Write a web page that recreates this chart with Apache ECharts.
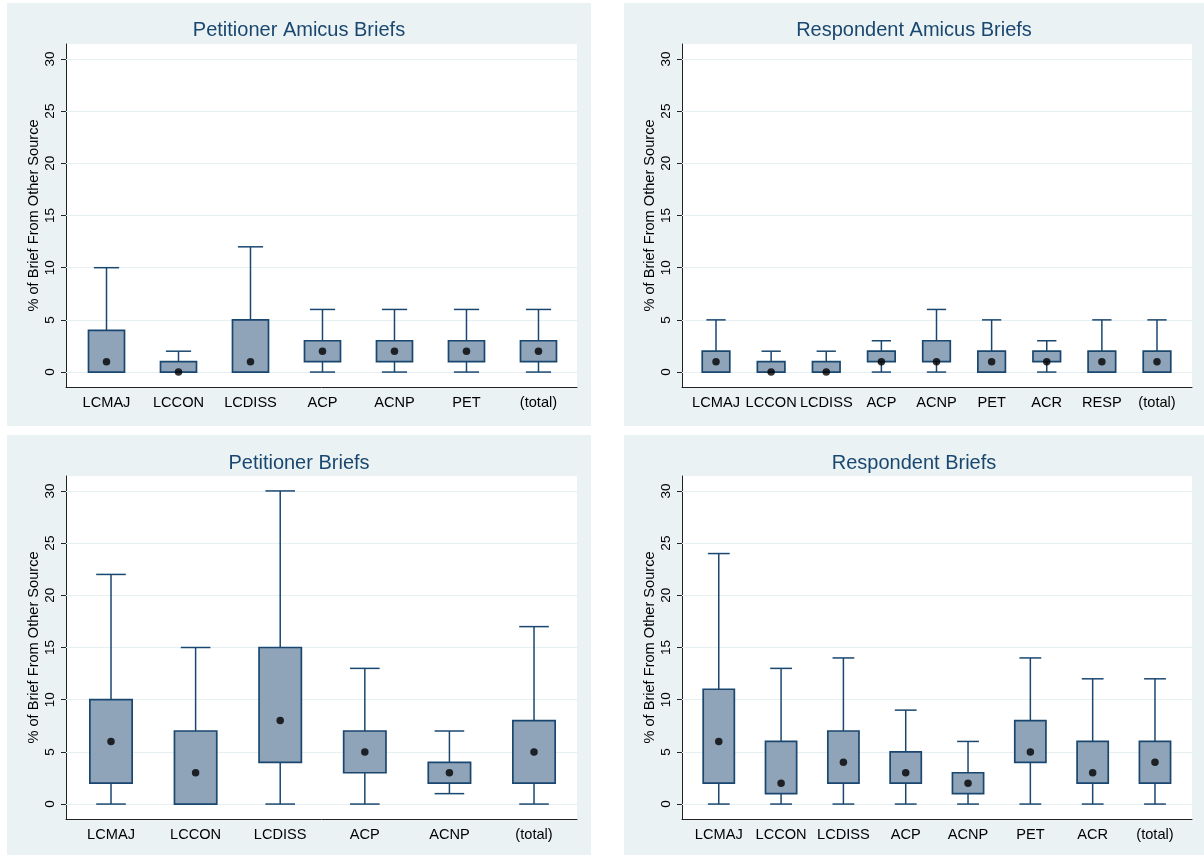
<!DOCTYPE html>
<html><head><meta charset="utf-8">
<script src="https://cdn.jsdelivr.net/npm/echarts@6/dist/echarts.min.js"></script>
<style>html,body{margin:0;padding:0;background:#fff}#c{width:1204px;height:855px}</style>
</head><body><div id="c"></div><script>
// ---- data ----
const yTicks = [0, 5, 10, 15, 20, 25, 30];
// stats rows: [min, q1, median, q3, max]
const petAmicusCats = ['LCMAJ', 'LCCON', 'LCDISS', 'ACP', 'ACNP', 'PET', '(total)'];
const petAmicusStats = [[0,0,1,4,10],[0,0,0,1,2],[0,0,1,5,12],[0,1,2,3,6],[0,1,2,3,6],[0,1,2,3,6],[0,1,2,3,6]];
const respAmicusCats = ['LCMAJ', 'LCCON', 'LCDISS', 'ACP', 'ACNP', 'PET', 'ACR', 'RESP', '(total)'];
const respAmicusStats = [[0,0,1,2,5],[0,0,0,1,2],[0,0,0,1,2],[0,1,1,2,3],[0,1,1,3,6],[0,0,1,2,5],[0,1,1,2,3],[0,0,1,2,5],[0,0,1,2,5]];
const petCats = ['LCMAJ', 'LCCON', 'LCDISS', 'ACP', 'ACNP', '(total)'];
const petStats = [[0,2,6,10,22],[0,0,3,7,15],[0,4,8,15,30],[0,3,5,7,13],[1,2,3,4,7],[0,2,5,8,17]];
const respCats = ['LCMAJ', 'LCCON', 'LCDISS', 'ACP', 'ACNP', 'PET', 'ACR', '(total)'];
const respStats = [[0,2,6,11,24],[0,1,2,6,13],[0,2,4,7,14],[0,2,3,5,9],[0,1,2,3,6],[0,4,5,8,14],[0,2,3,6,12],[0,2,4,6,12]];
const yName = '% of Brief From Other Source';

// ---- layout ----
const panels = [
  {title: 'Petitioner Amicus Briefs', cats: petAmicusCats, stats: petAmicusStats, bg: [7, 3, 584, 423], grid: [66, 44, 511, 343], pad: [0.5625, 0.535], titleTop: 20},
  {title: 'Respondent Amicus Briefs', cats: respAmicusCats, stats: respAmicusStats, bg: [624, 3, 580, 423], grid: [682, 44, 510, 343], pad: [0.617, 0.635], titleTop: 20},
  {title: 'Petitioner Briefs', cats: petCats, stats: petStats, bg: [7, 435, 584, 420], grid: [66, 476, 511, 343], pad: [0.532, 0.508], titleTop: 453},
  {title: 'Respondent Briefs', cats: respCats, stats: respStats, bg: [624, 435, 580, 420], grid: [682, 476, 510, 343], pad: [0.59, 0.594], titleTop: 453}
];
const FONT = 'Liberation Sans, Arial, Helvetica, sans-serif';
const NAVY = '#1a476f';
const FILL = '#8fa3b9';
const PANEL_BG = '#eaf2f3';
const GRIDLINE = '#e6eff1';

function renderBox(params, api) {
  const x = api.value(0);
  const pMin = api.coord([x, api.value(1)]);
  const pQ1 = api.coord([x, api.value(2)]);
  const pQ3 = api.coord([x, api.value(3)]);
  const pMax = api.coord([x, api.value(4)]);
  const band = api.size([1, 0])[0];
  const bw = band * 0.25, cw = band * 0.175;
  const cx = pMin[0];
  const ls = {stroke: NAVY, lineWidth: 1.5};
  return {type: 'group', children: [
    {type: 'line', shape: {x1: cx, y1: pQ3[1], x2: cx, y2: pMax[1]}, style: ls},
    {type: 'line', shape: {x1: cx, y1: pMin[1], x2: cx, y2: pQ1[1]}, style: ls},
    {type: 'line', shape: {x1: cx - cw, y1: pMax[1], x2: cx + cw, y2: pMax[1]}, style: ls},
    {type: 'line', shape: {x1: cx - cw, y1: pMin[1], x2: cx + cw, y2: pMin[1]}, style: ls},
    {type: 'rect', shape: {x: cx - bw, y: pQ3[1], width: 2 * bw, height: pQ1[1] - pQ3[1]},
     style: {fill: FILL, stroke: NAVY, lineWidth: 1.7}}
  ]};
}

const option = {
  animation: false,
  backgroundColor: '#fff',
  textStyle: {fontFamily: FONT},
  graphic: panels.map(p => ({type: 'rect', z: -10, silent: true,
    shape: {x: p.bg[0], y: p.bg[1], width: p.bg[2], height: p.bg[3]}, style: {fill: PANEL_BG}})),
  title: panels.map(p => ({text: p.title, left: p.bg[0] + p.bg[2] / 2, top: p.titleTop, textAlign: 'center', padding: 0,
    textStyle: {fontSize: 20, fontWeight: 'normal', color: NAVY, fontFamily: FONT}})),
  grid: panels.map(p => ({left: p.grid[0], top: p.grid[1], width: p.grid[2], height: p.grid[3],
    show: true, backgroundColor: '#fff', borderWidth: 0, containLabel: false})),
  xAxis: panels.map((p, i) => ({type: 'value', gridIndex: i,
    min: -p.pad[0], max: p.cats.length - 1 + p.pad[1],
    axisLine: {show: true, onZero: false, lineStyle: {color: '#222', width: 1}},
    axisTick: {show: false}, splitLine: {show: false},
    axisLabel: {customValues: p.cats.map((c, k) => k), formatter: v => p.cats[Math.round(v)] || '',
      margin: 8, fontSize: 14.6, color: '#000', fontFamily: FONT, hideOverlap: false}})),
  yAxis: panels.map((p, i) => ({type: 'value', gridIndex: i, min: -1.43, max: 31.43,
    name: yName, nameLocation: 'middle', nameGap: 25, nameRotate: 90,
    nameTextStyle: {fontSize: 14.6, color: '#000', fontFamily: FONT},
    axisLine: {show: true, onZero: false, lineStyle: {color: '#222', width: 1}},
    axisTick: {show: true, customValues: yTicks, length: 5, lineStyle: {color: '#222'}},
    splitLine: {show: false},
    axisLabel: {customValues: yTicks, rotate: 90, margin: 9, fontSize: 13.5, color: '#000', fontFamily: FONT}})),
  series: panels.flatMap((p, i) => [
    {type: 'line', xAxisIndex: i, yAxisIndex: i, data: [], z: 1, silent: true,
     markLine: {silent: true, z: 1, zlevel: 0, symbol: 'none', label: {show: false}, animation: false,
       lineStyle: {color: GRIDLINE, width: 1.2, type: 'solid'},
       data: yTicks.map(v => ({yAxis: v}))}},
    {type: 'custom', xAxisIndex: i, yAxisIndex: i, z: 3, renderItem: renderBox,
     encode: {x: 0, y: [1, 2, 3, 4]},
     data: p.stats.map((s, k) => [k, s[0], s[1], s[3], s[4]])},
    {type: 'scatter', xAxisIndex: i, yAxisIndex: i, z: 6, symbol: 'circle', symbolSize: 7.5,
     itemStyle: {color: '#000'},
     data: p.stats.map((s, k) => [k, s[2]])}
  ])
};
const chart = echarts.init(document.getElementById('c'), null, {renderer: 'canvas'});
chart.setOption(option);
</script></body></html>
